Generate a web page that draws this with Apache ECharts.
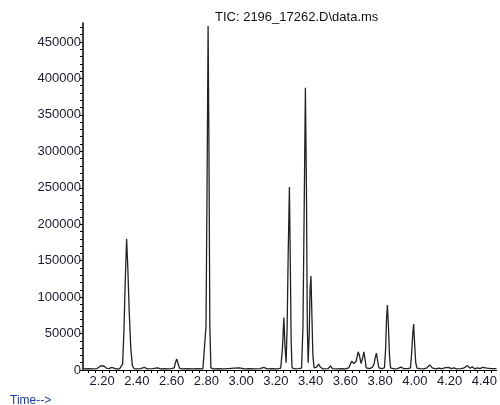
<!DOCTYPE html>
<html style="height: 100%">
<head>
  <meta charset="utf-8">
  <title>TIC chromatogram</title>
  <script src="https://cdn.jsdelivr.net/npm/echarts@6/dist/echarts.min.js"></script>
</head>
<body style="height: 100%; margin: 0; background: #fff">
  <div id="main" style="width: 500px; height: 405px"></div>
  <script type="text/javascript">
    // retention time (min) and abundance
    var times = [
      2.09, 2.12, 2.15, 2.17, 2.19, 2.20, 2.21, 2.225, 2.24, 2.255, 2.265, 2.28,
      2.30, 2.31, 2.318, 2.325, 2.333, 2.341, 2.348, 2.356, 2.365, 2.374, 2.383,
      2.40, 2.42, 2.445, 2.46, 2.49, 2.52, 2.535, 2.56, 2.58, 2.60, 2.615, 2.622,
      2.629, 2.637, 2.645, 2.66, 2.69, 2.72, 2.75, 2.78, 2.79, 2.798, 2.804, 2.810,
      2.815, 2.820, 2.826, 2.84, 2.87, 2.90, 2.93, 2.96, 2.99, 3.02, 3.05, 3.08,
      3.11, 3.13, 3.15, 3.18, 3.21, 3.228, 3.238, 3.246, 3.252, 3.259, 3.265,
      3.271, 3.278, 3.283, 3.288, 3.293, 3.31, 3.33, 3.348, 3.356, 3.363, 3.370,
      3.376, 3.381, 3.386, 3.392, 3.397, 3.402, 3.408, 3.413, 3.42, 3.435, 3.446,
      3.456, 3.47, 3.50, 3.515, 3.525, 3.55, 3.58, 3.60, 3.62, 3.636, 3.65, 3.662,
      3.674, 3.683, 3.69, 3.698, 3.707, 3.714, 3.72, 3.74, 3.755, 3.765, 3.772,
      3.779, 3.786, 3.793, 3.81, 3.825, 3.832, 3.837, 3.842, 3.848, 3.854, 3.86,
      3.88, 3.90, 3.92, 3.935, 3.96, 3.975, 3.982, 3.988, 3.993, 3.999, 4.005,
      4.012, 4.03, 4.05, 4.07, 4.086, 4.10, 4.12, 4.14, 4.155, 4.17, 4.18, 4.195,
      4.21, 4.225, 4.24, 4.25, 4.265, 4.28, 4.303, 4.318, 4.33, 4.345, 4.36, 4.375,
      4.39, 4.40, 4.415, 4.44, 4.47
    ];
    var abundance = [
      1500, 1800, 1500, 1800, 5500, 6500, 5500, 2500, 2000, 3500, 3000, 1500,
      1500, 2000, 8000, 50000, 120000, 180000, 140000, 80000, 30000, 6000, 2000,
      1500, 2000, 3500, 1500, 1800, 3000, 1500, 2000, 1500, 1800, 3000, 10000,
      15000, 9000, 2500, 1500, 1800, 1500, 1800, 1500, 3000, 60000, 250000, 472000,
      300000, 60000, 3000, 1500, 1800, 1500, 2000, 2500, 3000, 1500, 2000, 1500,
      1800, 3500, 1500, 1800, 1500, 2500, 30000, 72000, 35000, 10000, 60000,
      160000, 251000, 150000, 40000, 3000, 1500, 2000, 2500, 60000, 220000, 387000,
      250000, 60000, 10000, 50000, 110000, 129000, 70000, 20000, 3000, 4000, 8000,
      4000, 1500, 1800, 5500, 2000, 1500, 1800, 1500, 3000, 12000, 9000, 12000,
      25000, 18000, 9000, 15000, 25000, 14000, 3000, 2000, 3500, 8000, 17000,
      23000, 12000, 3000, 2000, 3000, 30000, 70000, 89000, 60000, 20000, 3000,
      1500, 2000, 4000, 2000, 1800, 3000, 25000, 50000, 63000, 35000, 10000,
      2500, 1800, 1500, 3000, 7000, 3000, 1500, 2500, 1500, 3000, 1500, 3500,
      1800, 3000, 1500, 4000, 1800, 2500, 6000, 2500, 4500, 1500, 3000, 2000,
      3500, 5000, 2500, 2000, 2000
    ];
    var xLabels = [2.2, 2.4, 2.6, 2.8, 3.0, 3.2, 3.4, 3.6, 3.8, 4.0, 4.2, 4.4];
    var yLabels = [0, 50000, 100000, 150000, 200000, 250000, 300000, 350000, 400000, 450000];

    var xTicks = [];
    for (var i = 0; i <= 58; i++) xTicks.push(+(2.12 + i * 0.04).toFixed(2));
    var yTicks = [];
    for (var j = 0; j <= 47; j++) yTicks.push(j * 10000);

    var points = times.map(function (t, k) { return [t, abundance[k]]; });

    var font = 'Liberation Sans, Arial, sans-serif';

    var option = {
      animation: false,
      title: [
        {
          text: 'TIC: 2196_17262.D\\data.ms',
          left: 215, top: 11, padding: 0,
          textStyle: { fontSize: 13, fontWeight: 'normal', color: '#111', fontFamily: font }
        },
        {
          text: 'Time-->',
          left: 10, top: 395, padding: 0,
          textStyle: { fontSize: 12, fontWeight: 'normal', color: '#1f3c9e', fontFamily: font }
        }
      ],
      grid: { left: 83, right: 2, top: 23, bottom: 35 },
      xAxis: {
        type: 'value',
        min: 2.09,
        max: 4.47,
        axisLine: { lineStyle: { color: '#000', width: 1.2 } },
        axisTick: { customValues: xTicks, length: 3, lineStyle: { color: '#000' } },
        axisLabel: {
          customValues: xLabels,
          margin: 5,
          color: '#1a1a2e',
          fontSize: 13,
          fontFamily: font,
          formatter: function (v) { return v.toFixed(2); }
        },
        splitLine: { show: false }
      },
      yAxis: {
        type: 'value',
        min: 0,
        max: 476000,
        axisLine: { show: true, lineStyle: { color: '#000', width: 1.5 } },
        axisTick: { show: true, customValues: yTicks, length: 3, lineStyle: { color: '#000' } },
        axisLabel: {
          customValues: yLabels,
          margin: 2,
          color: '#1a1a2e',
          fontSize: 13,
          fontFamily: font,
          formatter: function (v) { return String(v); }
        },
        splitLine: { show: false }
      },
      series: [
        {
          type: 'line',
          data: points,
          showSymbol: false,
          clip: true,
          lineStyle: { color: '#222', width: 1.3 }
        }
      ]
    };

    var chart = echarts.init(document.getElementById('main'));
    chart.setOption(option);
  </script>
</body>
</html>
